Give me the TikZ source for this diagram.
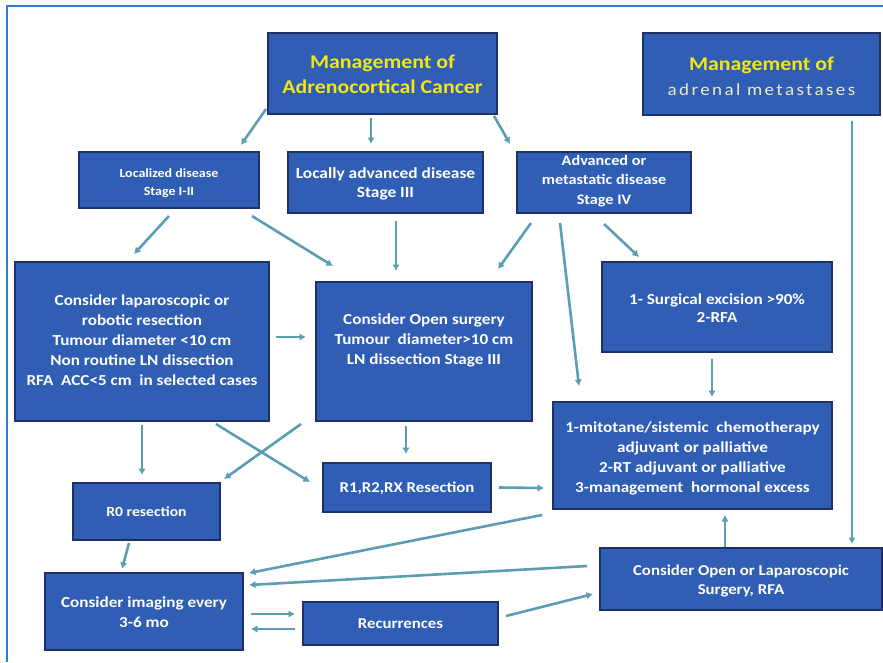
\documentclass[tikz,border=0pt]{standalone}
\usepackage{fontspec}
\setmainfont{Carlito}[FakeStretch=1.12]
\newfontfamily\spacedfont{Carlito}[FakeStretch=1.12, LetterSpace=14]
\usetikzlibrary{calc,arrows.meta}
\definecolor{boxfill}{HTML}{2F5EB4}
\definecolor{boxedge}{HTML}{1F2F68}
\definecolor{arrcol}{HTML}{5B9DB3}
\definecolor{framecol}{HTML}{2F80C8}
\definecolor{ttlyellow}{HTML}{F2E614}
\definecolor{paleyellow}{HTML}{EEEBC0}
\tikzset{
  box/.style={draw=boxedge, fill=boxfill, line width=2pt, inner sep=0pt},
  txt/.style={text=white, font=\bfseries\fontsize{15}{18.5}\selectfont, align=center, inner sep=0pt},
  bigtxt/.style={text=white, font=\bfseries\fontsize{15.3}{20}\selectfont, align=center, inner sep=0pt},
  ttl/.style={font=\bfseries\fontsize{19.5}{25}\selectfont, align=center, inner sep=0pt},
  arr/.style={draw=arrcol, line width=2.6pt, -{Latex[length=6.5pt,width=7.5pt]}},
}
\begin{document}
\begin{tikzpicture}[x=1pt,y=-1pt]
\useasboundingbox (0,0) rectangle (883,662);
\fill[white] (0,0) rectangle (883,662);
\draw[framecol, line width=2.5pt] (7,662) -- (7,6) -- (883,6);

% boxes
\node[box, minimum width=229, minimum height=81] (acc) at (382.5,73.5) {};
\node[ttl] (accT) at (382.5,74) {\textcolor{ttlyellow}{Management of}\\\textcolor{ttlyellow}{Adrenocortical Cancer}};
\node[box, minimum width=237, minimum height=82] (met) at (761.5,74) {};
\node[ttl] (metT) at (761.5,76) {\textcolor{ttlyellow}{Management of}\\\textcolor{paleyellow}{\mdseries\spacedfont\fontsize{17}{25}\selectfont adrenal metastases}};

\node[box, minimum width=180, minimum height=56] (loc) at (169,180) {};
\node[txt, font=\bfseries\fontsize{12.5}{18}\selectfont] (locT) at (169,183) {Localized disease\\Stage I-II};
\node[box, minimum width=195, minimum height=61] (lad) at (385.5,182.5) {};
\node[txt, font=\bfseries\fontsize{15.5}{19}\selectfont] (ladT) at (385.5,184) {Locally advanced disease\\Stage III};
\node[box, minimum width=174, minimum height=61] (adv) at (604,182.5) {};
\node[txt, font=\bfseries\fontsize{14.5}{19.5}\selectfont] (advT) at (604,181) {Advanced or\\metastatic disease\\Stage IV};

\node[box, minimum width=254, minimum height=159] (lap) at (142,341.5) {};
\node[bigtxt] (lapT) at (142,340) {Consider laparoscopic or\\robotic resection\\Tumour diameter <10 cm\\Non routine LN dissection\\RFA\ \ ACC<5 cm\ \ in selected cases};
\node[box, minimum width=216, minimum height=139] (open) at (424,351.5) {};
\node[bigtxt] (openT) at (424,340) {Consider Open surgery\\Tumour\ \ diameter>10 cm\\LN dissection Stage III};
\node[box, minimum width=230, minimum height=90] (surg) at (717,307) {};
\node[bigtxt, font=\bfseries\fontsize{15.3}{17.5}\selectfont] (surgT) at (717,308) {1- Surgical excision >90\%\\2-RFA};
\node[box, minimum width=279, minimum height=107] (mit) at (692.5,455.5) {};
\node[bigtxt] (mitT) at (692.5,458) {1-mitotane/sistemic\ \ chemotherapy\\adjuvant or palliative\\2-RT adjuvant or palliative\\3-management\ \ hormonal excess};

\node[box, minimum width=147, minimum height=57] (r0) at (146.5,511.5) {};
\node[txt, font=\bfseries\fontsize{14}{17}\selectfont] (r0T) at (146.5,512) {R0 resection};
\node[box, minimum width=168, minimum height=49] (r1) at (407,487.5) {};
\node[txt] (r1T) at (407,488) {R1,R2,RX Resection};
\node[box, minimum width=198, minimum height=77] (img) at (144,611.5) {};
\node[bigtxt] (imgT) at (144,612) {Consider imaging every\\3-6 mo};
\node[box, minimum width=195, minimum height=43] (rec) at (400.5,623.5) {};
\node[txt] (recT) at (400.5,624) {Recurrences};
\node[box, minimum width=282, minimum height=62] (ol) at (741,579) {};
\node[txt] (olT) at (741,581) {Consider Open or Laparoscopic\\Surgery, RFA};

% arrows
\draw[arr] ($(acc.south west)+(-1,-6)$) -- ($(loc.north west)+(163,-6)$);
\draw[arr] ($(acc.south west)+(104,3)$) -- ($(lad.north west)+(84,-7)$);
\draw[arr] ($(acc.south east)+(-4,1)$) -- ($(adv.north west)+(-6,-7)$);
\draw[arr] ($(loc.south)+(0,7)$) -- ($(lap.north west)+(120,-7)$);
\draw[arr] ($(loc.south east)+(-8,7)$) -- ($(open.north west)+(18,-15)$);
\draw[arr] ($(lad.south west)+(109,7)$) -- ($(open.north west)+(81,-10)$);
\draw[arr] ($(adv.south west)+(15,9)$) -- ($(open.north east)+(-35,-12)$);
\draw[arr] ($(adv.south west)+(44,9)$) -- ($(mit.north west)+(27,-15)$);
\draw[arr] ($(adv.south west)+(88,10)$) -- ($(surg.north west)+(38,-4)$);
\draw[arr] ($(lap.north east)+(6,76)$) -- ($(open.north west)+(-9,56)$);
\draw[arr] ($(surg.south west)+(111,6)$) -- ($(mit.north west)+(160,-4)$);
\draw[arr] ($(lap.south west)+(128,3)$) -- ($(r0.north west)+(70,-7)$);
\draw[arr] ($(lap.south west)+(202,2)$) -- ($(r1.north west)+(-12,20)$);
\draw[arr] ($(open.south west)+(-14,2)$) -- ($(r0.north east)+(3,-3)$);
\draw[arr] ($(open.south west)+(91,4)$) -- ($(r1.north west)+(84,-8)$);
\draw[arr] ($(r1.east)+(7,0)$) -- ($(mit.south west)+(-8,-22)$);
\draw[arr] ($(r0.south west)+(57,2)$) -- ($(img.north west)+(78,-3)$);
\draw[arr] ($(mit.south west)+(-10,5)$) -- ($(img.north east)+(5,1)$);
\draw[arr] ($(ol.north west)+(-12,19)$) -- ($(img.north east)+(5,13)$);
\draw[arr] ($(ol.north west)+(126,0)$) -- ($(mit.south west)+(173,5)$);
\draw[arr] ($(met.south west)+(210,5)$) -- ($(ol.north west)+(253,-3)$);
\draw[arr] ($(img.north east)+(7,42)$) -- ($(rec.north west)+(-7,13)$);
\draw[arr] ($(rec.north west)+(-7,28)$) -- ($(img.north east)+(7,57)$);
\draw[arr] ($(rec.north east)+(7,15)$) -- ($(ol.north west)+(-6,47)$);
\end{tikzpicture}
\end{document}
